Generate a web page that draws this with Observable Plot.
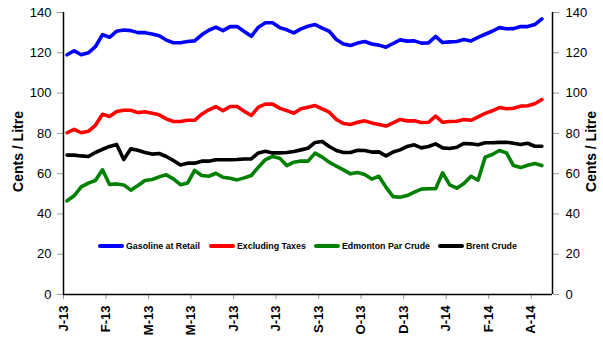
<!DOCTYPE html>
<html>
<head>
<meta charset="utf-8">
<script src="https://cdn.jsdelivr.net/npm/d3@7"></script>
<script src="https://cdn.jsdelivr.net/npm/@observablehq/plot@0.6"></script>
<style>
  html, body { margin: 0; padding: 0; background: #fff; }
  #chart { position: relative; width: 603px; height: 339px; font-family: "Liberation Sans", Arial, sans-serif; }
  #chart svg { display: block; }
  .legend { position: absolute; top: 240px; left: 0; width: 603px; height: 14px; }
  .legend .item { position: absolute; top: 0; display: flex; align-items: center; height: 12px;
                  font: bold 8.8px "Liberation Sans", Arial, sans-serif; color: #000; white-space: nowrap; }
  .legend .swatch { display: inline-block; width: 26px; height: 4px; border-radius: 2px; margin-right: 2px; }
</style>
</head>
<body>
<div id="chart"></div>
<script>
// Weekly prices, cents per litre, starting the first week of January 2013
const seriesNames = ["Gasoline at Retail", "Excluding Taxes", "Edmonton Par Crude", "Brent Crude"];
const seriesColors = ["#0000ff", "#ff0000", "#008000", "#000000"];

const gasolineRetail = [
  119, 121, 119, 120, 123, 129, 127.7, 130.7, 131.3, 131, 130, 130, 129.3, 128.5, 126.3, 125, 125,
  125.6, 125.9, 128.9, 131.2, 132.7, 131, 133, 133, 130.6, 128.2, 132.7, 134.9, 134.9, 132.5, 131.4, 129.9, 131.9,
  133.2, 134, 132.2, 130.7, 126.6, 124.4, 123.6, 124.8, 125.6, 124.4, 123.8, 122.8, 124.6, 126.4, 125.8, 125.9,
  124.8, 124.9, 128.1, 125.1, 125.4, 125.6, 126.6, 125.9, 127.6, 129.2, 130.7, 132.5, 131.9, 132, 133, 133, 134, 136.8
];
const excludingTaxes = [
  80.3, 82, 80.3, 81, 84, 89.5, 88.4, 90.8, 91.5, 91.5, 90.3, 90.7, 90, 89.2, 87.2, 85.9, 85.9,
  86.5, 86.5, 89.5, 91.7, 93.3, 91.2, 93.3, 93.3, 91, 88.9, 93, 94.5, 94.5, 92.5, 91.3, 90, 92.2,
  93, 93.8, 92.2, 90.5, 86.9, 84.9, 84.4, 85.5, 86.2, 85.2, 84.4, 83.6, 85.2, 86.9, 86.2, 86.2,
  85.4, 85.5, 88.5, 85.5, 85.9, 86, 86.9, 86.5, 88.2, 89.9, 91.2, 92.8, 92.2, 92.5, 93.5, 93.7, 94.7, 96.8
];
const edmontonParCrude = [
  46.5, 49, 53.4, 55.3, 56.6, 61.9, 54.6, 54.9, 54.4, 51.8, 54.1, 56.6, 57.1, 58.4, 59.4, 57.4, 54.5,
  55.3, 61.6, 59.1, 58.7, 60.2, 58.2, 57.7, 56.9, 57.9, 59.1, 63.2, 67, 68.5, 67.7, 64, 65.7, 66.3,
  66.2, 70.2, 68.2, 65.7, 63.7, 61.9, 59.9, 60.6, 59.6, 57.3, 58.7, 53.3, 48.6, 48.3, 49.1, 50.8,
  52.3, 52.5, 52.5, 60.4, 54.4, 52.8, 55.1, 58.7, 56.8, 68.2, 69.5, 71.5, 70.3, 64, 63, 64.2, 65, 64
];
const brentCrude = [
  69.2, 69.2, 68.8, 68.5, 70.5, 72.1, 73.5, 74.5, 67, 72.3, 71.6, 70.5, 69.7, 70, 68.5, 66.5, 64.3,
  65.2, 65.2, 66.2, 66.2, 66.9, 66.9, 66.9, 67, 67.3, 67.3, 70.3, 71.1, 70.3, 70.3, 70.5, 71, 71.8,
  72.6, 75.5, 76, 73.5, 71.5, 70.5, 70.5, 71.6, 71.5, 70.7, 70.8, 68.8, 70.7, 71.8, 73.5, 74.3,
  72.8, 73.5, 74.8, 72.8, 72.5, 73.1, 75, 74.8, 74.3, 75.3, 75.3, 75.5, 75.6, 75.1, 74.5, 75.1, 73.6, 73.6
];

// Category labels, one every six weeks
const xTickLabels = ["J-13", "F-13", "M-13", "M-13", "J-13", "J-13", "S-13", "O-13", "D-13", "J-14", "F-14", "A-14"];
const weeksPerLabel = 6;
const categoryCount = 69; // weekly slots on the axis (last one empty)
const yTicks = [0, 20, 40, 60, 80, 100, 120, 140];

const allSeries = [gasolineRetail, excludingTaxes, edmontonParCrude, brentCrude];
const rows = allSeries.flatMap((values, s) =>
  values.map((v, i) => ({ week: i, value: v, series: seriesNames[s] }))
);

const xTicks = xTickLabels.map((_, k) => k * weeksPerLabel - 0.5);
const xDomain = [-0.5, categoryCount - 0.5];

const font = '"Liberation Sans", Arial, sans-serif';

const chart = Plot.plot({
  width: 603,
  height: 339,
  marginLeft: 63,
  marginRight: 51,
  marginTop: 12,
  marginBottom: 45,
  style: { fontFamily: font, color: "#000", background: "#fff", overflow: "visible" },
  x: { domain: xDomain },
  y: { domain: [0, 140] },
  color: { domain: seriesNames, range: seriesColors },
  marks: [
    Plot.axisY({
      anchor: "left", ticks: yTicks, tickSize: 6, tickPadding: 6, stroke: "#999", fill: "#000",
      fontSize: 13, label: null
    }),
    Plot.axisY({
      anchor: "right", ticks: yTicks, tickSize: 6, tickPadding: 7, stroke: "#999", fill: "#000",
      fontSize: 13, label: null
    }),
    Plot.axisX({
      ticks: xTicks, tickFormat: (d, i) => xTickLabels[i], tickRotate: -90,
      tickSize: 5, tickPadding: 6, stroke: "#999", fill: "#000",
      fontSize: 13, fontWeight: "bold", label: null
    }),
    Plot.text(["Cents / Litre"], {
      frameAnchor: "left", rotate: -90, textAnchor: "middle", dx: -45, dy: -2,
      fontSize: 14, fontWeight: "bold", fill: "#000"
    }),
    Plot.text(["Cents / Litre"], {
      frameAnchor: "right", rotate: -90, textAnchor: "middle", dx: 39, dy: -2,
      fontSize: 14, fontWeight: "bold", fill: "#000"
    }),
    Plot.ruleX(xDomain, { stroke: "#000", strokeWidth: 1.5 }),
    Plot.ruleY([0], { stroke: "#000", strokeWidth: 1.5 }),
    Plot.line(rows, {
      x: "week", y: "value", z: "series", stroke: "series",
      strokeWidth: 3.6, strokeLinejoin: "round", strokeLinecap: "round"
    })
  ]
});

const host = document.getElementById("chart");
host.appendChild(chart);

// Legend sits inside the plotting area, below the series
const legendLefts = [98, 209, 314, 438];
const legend = document.createElement("div");
legend.className = "legend";
seriesNames.forEach((name, s) => {
  const item = document.createElement("div");
  item.className = "item";
  item.style.left = legendLefts[s] + "px";
  const sw = document.createElement("span");
  sw.className = "swatch";
  sw.style.background = seriesColors[s];
  item.appendChild(sw);
  item.appendChild(document.createTextNode(name));
  legend.appendChild(item);
});
host.appendChild(legend);
</script>
</body>
</html>
